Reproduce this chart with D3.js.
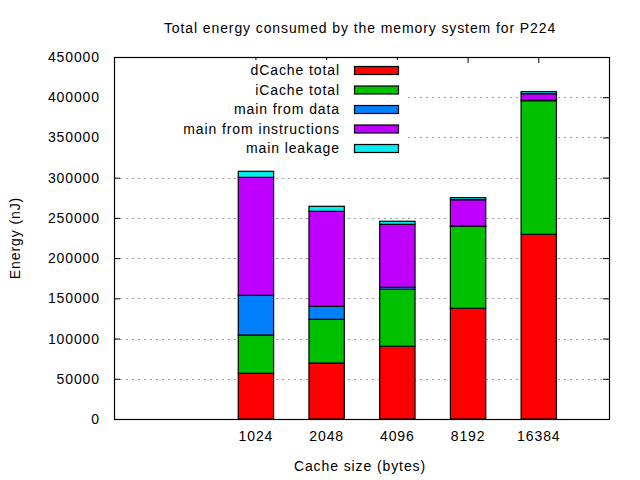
<!DOCTYPE html>
<html>
<head>
<meta charset="utf-8">
<script src="https://cdn.jsdelivr.net/npm/d3@7"></script>
<style>
  body { margin: 0; background: #fff; }
  text { font-family: "Liberation Sans", Arial, sans-serif; fill: #000; letter-spacing: 0.9px; }
</style>
</head>
<body>
<div id="chart"></div>
<script>
// cache sizes (bytes)
var sizes = ["1024", "2048", "4096", "8192", "16384"];
var seriesNames = ["dCache total", "iCache total", "main from data", "main from instructions", "main leakage"];
var seriesColors = ["#ff0000", "#00c000", "#0080ff", "#c000ff", "#00eeee"];

// energy in nJ
var dCache   = [56800, 69600, 90400, 137600, 229600];
var iCache   = [47600, 54300, 70800, 101900, 166100];
var mainData = [49400, 16200, 2500, 500, 500];
var mainInst = [146600, 118100, 78300, 32600, 8200];
var leakage  = [7500, 6200, 3800, 2500, 2500];

var yTicks = [0, 50000, 100000, 150000, 200000, 250000, 300000, 350000, 400000, 450000];

var W = 640, H = 480;
var plotL = 114, plotR = 609, plotT = 57, plotB = 419;

var svg = d3.select("#chart").append("svg")
    .attr("width", W)
    .attr("height", H);

var x = d3.scaleLinear().domain([-2, 5]).range([plotL, plotR]);
var y = d3.scaleLinear().domain([0, 450000]).range([plotB, plotT]);

// build rows for d3.stack
var rows = sizes.map(function (s, i) {
    return { i: i, "dCache total": dCache[i], "iCache total": iCache[i],
        "main from data": mainData[i], "main from instructions": mainInst[i],
        "main leakage": leakage[i] };
});
var stacked = d3.stack().keys(seriesNames)(rows);

// grid lines
svg.append("g")
    .selectAll("line")
    .data(yTicks.slice(1, -1))
    .enter()
    .append("line")
    .attr("x1", plotL).attr("x2", plotR)
    .attr("y1", function (d) { return Math.round(y(d)) + 0.5; })
    .attr("y2", function (d) { return Math.round(y(d)) + 0.5; })
    .attr("stroke", "#a0a0a0")
    .attr("stroke-dasharray", "2,4");

// y axis labels + ticks
var yAxis = svg.append("g")
    .attr("transform", "translate(" + plotL + ",0)")
    .call(d3.axisLeft(y).tickValues(yTicks).tickSize(-6).tickPadding(14).tickFormat(d3.format("d")));
yAxis.select(".domain").remove();
yAxis.selectAll("text").style("font-size", "14px").attr("font-family", null);

var yAxisR = svg.append("g")
    .attr("transform", "translate(" + plotR + ",0)")
    .call(d3.axisRight(y).tickValues(yTicks).tickSize(-6).tickFormat(""));
yAxisR.select(".domain").remove();

// x axis
var xAxis = svg.append("g")
    .attr("transform", "translate(0," + plotB + ")")
    .call(d3.axisBottom(x).tickValues(d3.range(sizes.length)).tickSize(-6).tickPadding(12)
        .tickFormat(function (d) { return sizes[d]; }));
xAxis.select(".domain").remove();
xAxis.selectAll("text").style("font-size", "14px").attr("font-family", null);

var xAxisT = svg.append("g")
    .attr("transform", "translate(0," + plotT + ")")
    .call(d3.axisTop(x).tickValues(d3.range(sizes.length)).tickSize(-6).tickFormat(""));
xAxisT.select(".domain").remove();

// legend background hides the grid behind it
svg.append("rect")
    .attr("x", plotL + 1).attr("y", 60)
    .attr("width", 290).attr("height", 97)
    .attr("fill", "#fff");

// bars
var bw = x(0.25) - x(0);
svg.append("g")
    .selectAll("g")
    .data(stacked)
    .enter()
    .append("g")
    .attr("fill", function (d, k) { return seriesColors[k]; })
    .selectAll("rect")
    .data(function (d) { return d; })
    .enter()
    .append("rect")
    .attr("x", function (d) { return x(d.data.i) - bw + 0.5; })
    .attr("width", 2 * bw)
    .attr("y", function (d) { return y(d[1]); })
    .attr("height", function (d) { return y(d[0]) - y(d[1]); })
    .attr("stroke", "#000")
    .attr("stroke-width", 1.2);

// frame
svg.append("rect")
    .attr("x", plotL + 0.5).attr("y", plotT + 0.5)
    .attr("width", plotR - plotL).attr("height", plotB - plotT)
    .attr("fill", "none")
    .attr("stroke", "#000")
    .attr("stroke-width", 1.2);

// legend
var legend = svg.append("g")
    .selectAll("g")
    .data(seriesNames)
    .enter()
    .append("g")
    .attr("transform", function (d, k) { return "translate(0," + (70 + k * 19.5) + ")"; });
legend.append("text")
    .attr("x", 340)
    .attr("y", 5)
    .attr("text-anchor", "end")
    .style("font-size", "14px")
    .text(function (d) { return d; });
legend.append("rect")
    .attr("x", 354.5).attr("y", -3.5)
    .attr("width", 44).attr("height", 8)
    .attr("fill", function (d, k) { return seriesColors[k]; })
    .attr("stroke", "#000")
    .attr("stroke-width", 1.2);

// titles
svg.append("text")
    .attr("x", 360).attr("y", 33)
    .attr("text-anchor", "middle")
    .style("font-size", "14px")
    .text("Total energy consumed by the memory system for P224");

svg.append("text")
    .attr("x", 360).attr("y", 471)
    .attr("text-anchor", "middle")
    .style("font-size", "14px")
    .text("Cache size (bytes)");

svg.append("text")
    .attr("transform", "translate(20,238) rotate(-90)")
    .attr("text-anchor", "middle")
    .style("font-size", "14px")
    .text("Energy (nJ)");
</script>
</body>
</html>
